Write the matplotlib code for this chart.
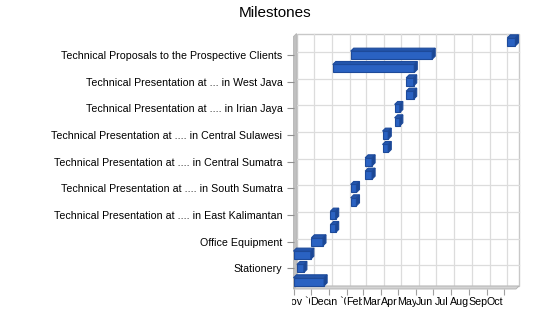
import matplotlib
matplotlib.use("Agg")
import matplotlib.pyplot as plt
import matplotlib.dates as mdates
from matplotlib.patches import Polygon, Rectangle
from matplotlib.transforms import Bbox, TransformedBbox
import numpy as np

plt.rcParams["font.family"] = ["Liberation Sans", "DejaVu Sans"]

# milestones, bottom to top (only every other row carries a label)
task_labels = [
    "", "Stationery",
    "", "Office Equipment",
    "", "Technical Presentation at .... in East Kalimantan",
    "", "Technical Presentation at .... in South Sumatra",
    "", "Technical Presentation at .... in Central Sumatra",
    "", "Technical Presentation at .... in Central Sulawesi",
    "", "Technical Presentation at .... in Irian Jaya",
    "", "Technical Presentation at ... in West Java",
    "", "Technical Proposals to the Prospective Clients",
    "",
]
start_dates = [
    "2001-11-01", "2001-11-07", "2001-11-01", "2001-12-02",
    "2002-01-04", "2002-01-04", "2002-02-08", "2002-02-08",
    "2002-03-05", "2002-03-05", "2002-04-04", "2002-04-04",
    "2002-04-25", "2002-04-25", "2002-05-15", "2002-05-15",
    "2002-01-08", "2002-02-08", "2002-11-06",
]
end_dates = [
    "2001-12-24", "2001-11-19", "2001-12-01", "2001-12-22",
    "2002-01-13", "2002-01-13", "2002-02-18", "2002-02-18",
    "2002-03-17", "2002-03-17", "2002-04-14", "2002-04-14",
    "2002-05-04", "2002-05-04", "2002-05-28", "2002-05-28",
    "2002-05-29", "2002-06-29", "2002-11-20",
]
month_labels = ["Nov `01", "Dec", "Jan `02", "Feb", "Mar", "Apr",
                "May", "Jun", "Jul", "Aug", "Sep", "Oct"]
axis_start = "2001-11-01"
axis_end = "2002-11-21"

to_num = lambda ds: mdates.date2num(np.array(ds, dtype="datetime64[D]"))
starts = to_num(start_dates)
ends = to_num(end_dates)
x0, x1 = to_num([axis_start, axis_end])
month_starts = to_num(np.arange("2001-11", "2002-12", dtype="datetime64[M]").astype("datetime64[D]"))
month_mids = month_starts[:-1] + 15

fig = plt.figure(figsize=(5.5, 3.18), dpi=100)
ax = fig.add_axes([293.5 / 550, 29 / 318, 222.5 / 550, 252.5 / 318])
y0, y1 = -0.54, 18.4
ax.set_xlim(x0, x1)
ax.set_ylim(y0, y1)
for s in ax.spines.values():
    s.set_visible(False)

# 3d depth (3 px) in data units
pos = ax.get_position()
w_px = pos.width * fig.get_figwidth() * fig.dpi
h_px = pos.height * fig.get_figheight() * fig.dpi
ddx = 3 / (w_px / (x1 - x0))
ddy = 3 / (h_px / (y1 - y0))

# back wall + grid
ax.add_patch(Rectangle((x0 + ddx, y0 + ddy), x1 - x0, y1 - y0, facecolor="white",
                       edgecolor="#c8c8c8", lw=1.0, clip_on=False, zorder=0))
for m in month_starts[1:]:
    ax.plot([m + ddx] * 2, [y0 + ddy, y1 + ddy], color="#dcdcdc", lw=0.9,
            clip_on=False, zorder=0.5)
for i in range(1, len(task_labels), 2):
    ax.plot([x0 + ddx, x1 + ddx], [i + ddy] * 2, color="#dcdcdc", lw=0.9,
            clip_on=False, zorder=0.5)

# left wall and floor
ax.add_patch(Polygon([(x0, y0), (x0, y1), (x0 + ddx, y1 + ddy), (x0 + ddx, y0 + ddy)],
                     facecolor="#c0c0c0", edgecolor="#b4b4b4", lw=0.6, clip_on=False, zorder=1))
ax.add_patch(Polygon([(x0, y0), (x1, y0), (x1 + ddx, y0 + ddy), (x0 + ddx, y0 + ddy)],
                     facecolor="#d4d4d4", edgecolor="#b0b0b0", lw=0.6, clip_on=False, zorder=1))

# bars
h = 0.6
front, top, side, edge = "#2a62c2", "#2456ad", "#1c4793", "#1d4a9a"
widths = ends - starts
ax.barh(range(len(starts)), widths, left=starts, height=h, color=front,
        edgecolor=edge, linewidth=0.8, zorder=3)
for i, (l, w) in enumerate(zip(starts, widths)):
    r = l + w
    ax.add_patch(Polygon([(l, i + h / 2), (r, i + h / 2), (r + ddx, i + h / 2 + ddy),
                          (l + ddx, i + h / 2 + ddy)], facecolor=top, edgecolor=edge,
                         lw=0.8, clip_on=False, zorder=3))
    ax.add_patch(Polygon([(r, i - h / 2), (r + ddx, i - h / 2 + ddy), (r + ddx, i + h / 2 + ddy),
                          (r, i + h / 2)], facecolor=side, edgecolor=edge,
                         lw=0.8, clip_on=False, zorder=3))

# y axis
label_idx = [i for i, t in enumerate(task_labels) if t]
ax.set_yticks(label_idx, [task_labels[i] for i in label_idx])
ax.tick_params(axis="y", length=5, width=0.8, color="#909090", pad=3, labelsize=7.7)

# x axis: month-start tick marks, labels mid-month (later labels cover earlier ones)
ax.vlines(month_starts, 0, -6 / h_px, transform=ax.get_xaxis_transform(),
          colors="#a0a0a0", lw=0.8, clip_on=False)
year_i = [i for i, t in enumerate(month_labels) if "`" in t]
other_i = [i for i, t in enumerate(month_labels) if "`" not in t]
ax.set_xticks(month_mids[year_i], [month_labels[i] for i in year_i])
ax.set_xticks(month_mids[other_i], [month_labels[i] for i in other_i], minor=True)
ax.tick_params(axis="x", which="both", length=0, pad=6, labelsize=7.7)
for lbl in ax.get_xticklabels(minor=True):
    lbl.set_bbox(dict(facecolor="white", edgecolor="none", pad=0))
clip = TransformedBbox(Bbox([[292 / 550, 0], [1, 1]]), fig.transFigure)
for lbl in ax.get_xticklabels():
    lbl.set_clip_box(clip)
    lbl.set_clip_on(True)

fig.text(0.5, 1 - 13 / 318, "Milestones", ha="center", va="center", fontsize=11)

fig.savefig("out.png", dpi=100)
